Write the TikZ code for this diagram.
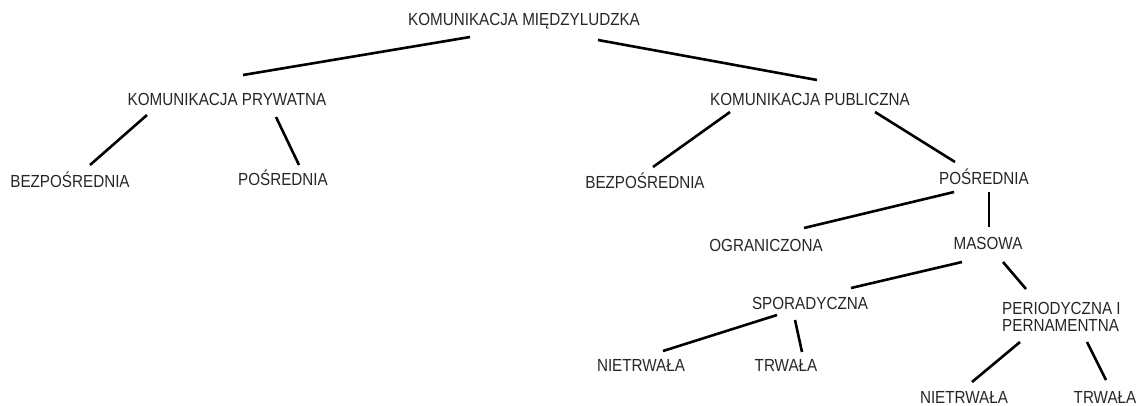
\documentclass[tikz,border=0pt]{standalone}
\usepackage{fontspec}
\setmainfont{Liberation Sans}
\newfontfamily\lblfont[FakeStretch=0.87]{Liberation Sans}
\begin{document}
\begin{tikzpicture}[x=1pt,y=-1pt,
  lbl/.style={inner sep=0pt,anchor=base,font=\lblfont\fontsize{17.5}{17}\selectfont,text=black!85},
  conn/.style={line width=2.6pt,black}]
\useasboundingbox (0,0) rectangle (1139,405);
% labels
\node[lbl] (root) at (524,25) {KOMUNIKACJA MIĘDZYLUDZKA};
\node[lbl] (pryw) at (227,105.5) {KOMUNIKACJA PRYWATNA};
\node[lbl] (publ) at (810,105) {KOMUNIKACJA PUBLICZNA};
\node[lbl] (bezp1) at (70,187.7) {BEZPOŚREDNIA};
\node[lbl] (posr1) at (283,185) {POŚREDNIA};
\node[lbl] (bezp2) at (645,188.5) {BEZPOŚREDNIA};
\node[lbl] (posr2) at (984,184.5) {POŚREDNIA};
\node[lbl] (ogr) at (766,251.5) {OGRANICZONA};
\node[lbl] (mas) at (988,249.5) {MASOWA};
\node[lbl] (spor) at (810,309) {SPORADYCZNA};
\node[lbl,anchor=north west,align=left] (per) at (1002,302.5) {PERIODYCZNA I\\PERNAMENTNA};
\node[lbl] (niet1) at (641,371.5) {NIETRWAŁA};
\node[lbl] (trw1) at (786,371.5) {TRWAŁA};
\node[lbl] (niet2) at (964,403.5) {NIETRWAŁA};
\node[lbl] (trw2) at (1105,403.5) {TRWAŁA};
% connector end points
\coordinate (rootL) at (470,37);  \coordinate (prywT) at (243,75);
\coordinate (rootR) at (598,40);  \coordinate (publT) at (817,80);
\coordinate (prywL) at (147,115); \coordinate (bezp1T) at (90,165);
\coordinate (prywR) at (276,117); \coordinate (posr1T) at (299,165);
\coordinate (publL) at (730,112); \coordinate (bezp2T) at (653,167);
\coordinate (publR) at (875,112); \coordinate (posr2T) at (955,162);
\coordinate (posr2L) at (954,192); \coordinate (ogrT) at (804,228);
\coordinate (posr2B) at (989,192); \coordinate (masT) at (989,227);
\coordinate (masL) at (962,262); \coordinate (sporT) at (851,288);
\coordinate (masR) at (1003,262); \coordinate (perT) at (1026,289);
\coordinate (sporL) at (777,315); \coordinate (niet1T) at (663,351);
\coordinate (sporR) at (795,320); \coordinate (trw1T) at (802,352);
\coordinate (perL) at (1020,342); \coordinate (niet2T) at (972,382);
\coordinate (perR) at (1087,342); \coordinate (trw2T) at (1106,380);
% connectors
\draw[conn] (rootL) -- (prywT);
\draw[conn] (rootR) -- (publT);
\draw[conn] (prywL) -- (bezp1T);
\draw[conn] (prywR) -- (posr1T);
\draw[conn] (publL) -- (bezp2T);
\draw[conn] (publR) -- (posr2T);
\draw[conn] (posr2L) -- (ogrT);
\draw[conn] (posr2B) -- (masT);
\draw[conn] (masL) -- (sporT);
\draw[conn] (masR) -- (perT);
\draw[conn] (sporL) -- (niet1T);
\draw[conn] (sporR) -- (trw1T);
\draw[conn] (perL) -- (niet2T);
\draw[conn] (perR) -- (trw2T);
\end{tikzpicture}
\end{document}
